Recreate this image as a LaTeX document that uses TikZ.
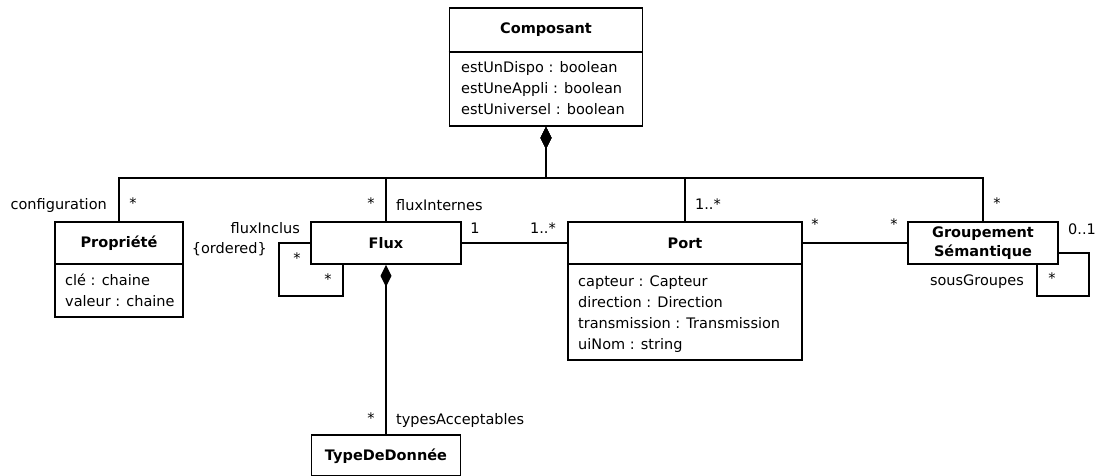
\documentclass[tikz,border=0pt]{standalone}
\usepackage{fontspec}
\setmainfont{DejaVu Sans}
\usetikzlibrary{arrows.meta}
\begin{document}
\begin{tikzpicture}[x=1pt,y=-1pt,
  every node/.style={font=\fontsize{14.5}{21}\selectfont, inner sep=0pt},
  box/.style={draw, line width=1.6pt, rectangle},
  hdr/.style={font=\fontsize{14.5}{19}\selectfont\bfseries, align=center},
  attr/.style={anchor=base west},
  conn/.style={line width=1.4pt},
  compo/.style={conn, {Diamond[length=22pt,width=11pt]}-}
]
\useasboundingbox (0,0) rectangle (1097,476);

% Composant
\node[box, minimum width=193, minimum height=118] (comp) at (546,67) {};
\node[hdr] (compH) at (546,30) {Composant};
\draw[line width=1.6pt] (comp.west |- 0,52) -- (comp.east |- 0,52);
\node[attr] (compA1) at (461,73) {estUnDispo : boolean};
\node[attr] (compA2) at (461,94) {estUneAppli : boolean};
\node[attr] (compA3) at (461,115) {estUniversel : boolean};

% Propriete
\node[box, minimum width=128, minimum height=95] (prop) at (119,269.5) {};
\node[hdr] (propH) at (119,243) {Propriété};
\draw[line width=1.6pt] (prop.west |- 0,264) -- (prop.east |- 0,264);
\node[attr] (propA1) at (65,285) {clé : chaine};
\node[attr] (propA2) at (65,306) {valeur : chaine};

% Flux
\node[box, minimum width=150, minimum height=42] (flux) at (386,243) {};
\node[hdr] (fluxH) at (386,243) {Flux};

% Port
\node[box, minimum width=234, minimum height=138] (port) at (685,291) {};
\node[hdr] (portH) at (685,243) {Port};
\draw[line width=1.6pt] (port.west |- 0,264) -- (port.east |- 0,264);
\node[attr] (portA1) at (578,286) {capteur : Capteur};
\node[attr] (portA2) at (578,307) {direction : Direction};
\node[attr] (portA3) at (578,328) {transmission : Transmission};
\node[attr] (portA4) at (578,349) {uiNom : string};

% Groupement
\node[box, minimum width=150, minimum height=42] (grp) at (983,243) {};
\node[hdr] (grpH) at (983,243) {Groupement\\Sémantique};

% TypeDeDonnee
\node[box, minimum width=149, minimum height=41] (tdd) at (386,455.5) {};
\node[hdr] (tddH) at (386,456) {TypeDeDonnée};

% composition from Composant
\coordinate (bus) at (546,178);
\draw[compo] (comp.south) -- (bus) -| (prop.north);
\draw[compo] (comp.south) -- (bus) -| (flux.north);
\draw[compo] (comp.south) -- (bus) -| (port.north);
\draw[compo] (comp.south) -- (bus) -| (grp.north);

% Flux - TypeDeDonnee
\draw[compo] (flux.south) -- (tdd.north);

% Flux - Port
\draw[conn] (flux.east) -- (flux.east -| port.west);

% Port - Groupement
\draw[conn] (port.east |- grp.west) -- (grp.west);

% Flux self loop
\coordinate (fl1) at (279,243);
\coordinate (fl2) at (343,296);
\coordinate (fl3) at (343,264);
\draw[conn] (flux.west) -- (fl1) |- (fl2) -- (fl3);

% Groupement self loop
\coordinate (gl0) at (1058,253);
\coordinate (gl1) at (1089,253);
\coordinate (gl2) at (1037,296);
\coordinate (gl3) at (1037,264);
\draw[conn] (gl0) -- (gl1) |- (gl2) -- (gl3);

% labels
\node[anchor=east] (l1) at (107,205) {configuration};
\node (l2) at (133,203) {*};
\node (l3) at (371,203) {*};
\node[anchor=west] (l4) at (396,205) {fluxInternes};
\node[anchor=east] (l5) at (300,228) {fluxInclus};
\node[anchor=east] (l6) at (267,249) {\{ordered\}};
\node (l7) at (297,258) {*};
\node (l8) at (328,279) {*};
\node (l9) at (475,228) {1};
\node (l10) at (543,228) {1..*};
\node (l11) at (708,204) {1..*};
\node (l12) at (815,224) {*};
\node (l13) at (894,224) {*};
\node (l14) at (997,203) {*};
\node[anchor=west] (l15) at (1068,229) {0..1};
\node[anchor=east] (l16) at (1024,282) {sousGroupes};
\node (l17) at (1052,278) {*};
\node (l18) at (371,418) {*};
\node[anchor=west] (l19) at (396,420) {typesAcceptables};
\end{tikzpicture}
\end{document}
